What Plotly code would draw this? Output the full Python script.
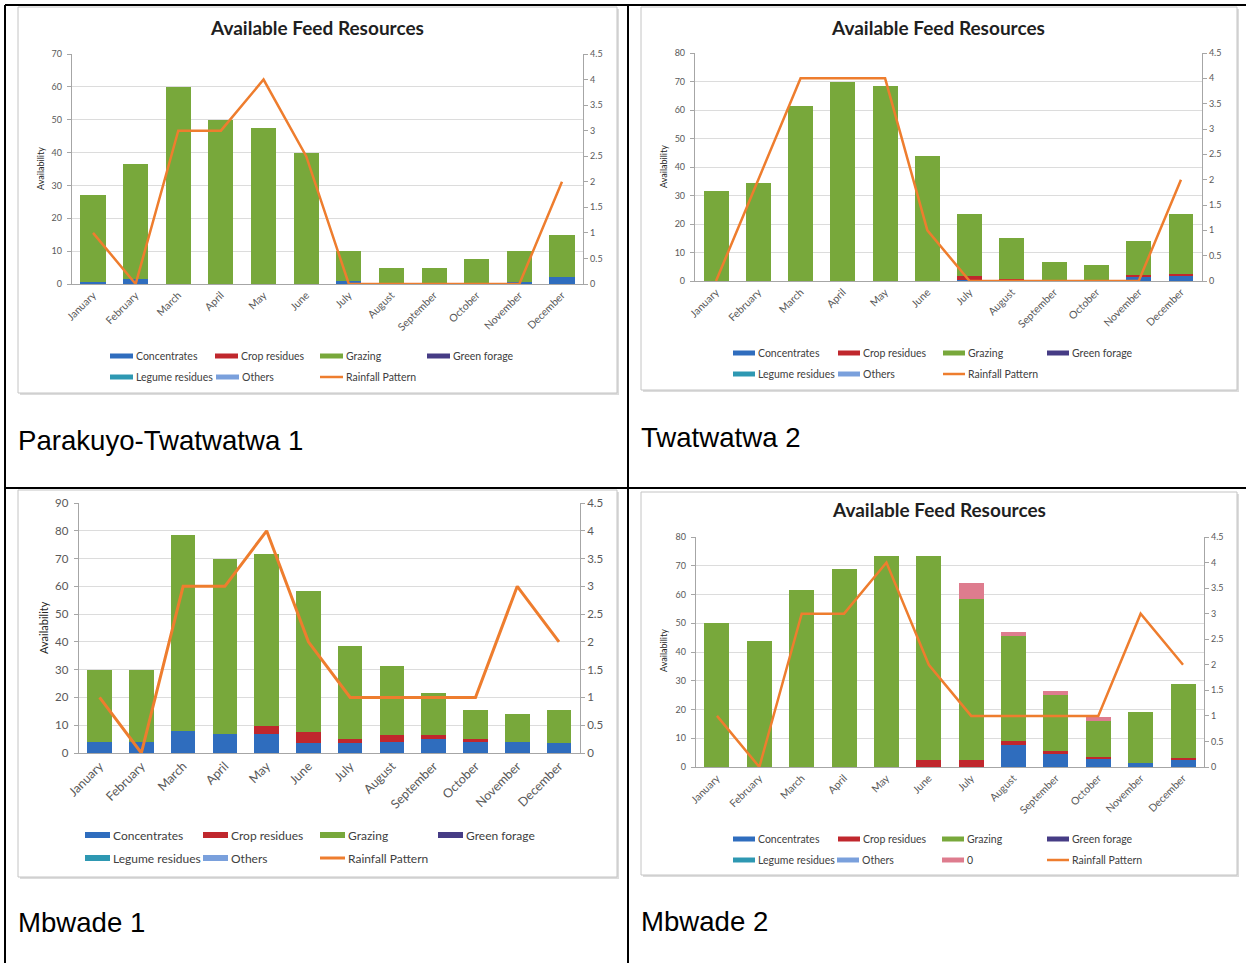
import plotly.graph_objects as go

# ---------------------------------------------------------------- data
months = ["January", "February", "March", "April", "May", "June", "July",
          "August", "September", "October", "November", "December"]

# Parakuyo-Twatwatwa 1
p1_concentrates = [0.5, 1.5, 0, 0, 0, 0, 1, 0.3, 0.2, 0.2, 0.5, 2]
p1_crop_residues = [0, 0, 0, 0, 0, 0, 0, 0, 0, 0, 0, 0]
p1_grazing = [26.5, 35, 60, 50, 47.5, 40, 9, 4.7, 4.8, 7.3, 9.5, 13]
p1_green_forage = [0, 0, 0, 0, 0, 0, 0, 0, 0, 0, 0, 0]
p1_legume_residues = [0, 0, 0, 0, 0, 0, 0, 0, 0, 0, 0, 0]
p1_others = [0, 0, 0, 0, 0, 0, 0, 0, 0, 0, 0, 0]
p1_rainfall = [1, 0, 3, 3, 4, 2.5, 0, 0, 0, 0, 0, 2]

# Twatwatwa 2
p2_concentrates = [0, 0, 0, 0, 0, 0, 0.3, 0, 0, 0, 1.5, 2]
p2_crop_residues = [0, 0, 0, 0, 0, 0, 1.5, 0.8, 0, 0, 0.7, 0.3]
p2_grazing = [31.5, 34.5, 61.5, 70, 68.5, 44, 21.7, 14.2, 6.5, 5.5, 11.8, 21.2]
p2_green_forage = [0, 0, 0, 0, 0, 0, 0, 0, 0, 0, 0, 0]
p2_legume_residues = [0, 0, 0, 0, 0, 0, 0, 0, 0, 0, 0, 0]
p2_others = [0, 0, 0, 0, 0, 0, 0, 0, 0, 0, 0, 0]
p2_rainfall = [0, 2, 4, 4, 4, 1, 0, 0, 0, 0, 0, 2]

# Mbwade 1
p3_concentrates = [4, 4, 8, 7, 7, 3.5, 3.5, 4, 5, 4, 4, 3.5]
p3_crop_residues = [0, 0, 0, 0, 2.7, 4, 1.5, 2.5, 1.5, 1, 0, 0]
p3_grazing = [26, 26, 70.5, 63, 61.8, 51, 33.5, 25, 15, 10.5, 10, 12]
p3_green_forage = [0, 0, 0, 0, 0, 0, 0, 0, 0, 0, 0, 0]
p3_legume_residues = [0, 0, 0, 0, 0, 0, 0, 0, 0, 0, 0, 0]
p3_others = [0, 0, 0, 0, 0, 0, 0, 0, 0, 0, 0, 0]
p3_rainfall = [1, 0, 3, 3, 4, 2, 1, 1, 1, 1, 3, 2]

# Mbwade 2
p4_concentrates = [0, 0, 0, 0, 0, 0, 0, 7.5, 4.5, 3, 1.5, 2.5]
p4_crop_residues = [0, 0, 0, 0, 0, 2.5, 2.5, 1.5, 1, 0.5, 0, 0.7]
p4_grazing = [50, 44, 61.5, 69, 73.5, 71, 56, 36.5, 19.5, 12.5, 17.5, 25.8]
p4_green_forage = [0, 0, 0, 0, 0, 0, 0, 0, 0, 0, 0, 0]
p4_legume_residues = [0, 0, 0, 0, 0, 0, 0, 0, 0, 0, 0, 0]
p4_others = [0, 0, 0, 0, 0, 0, 0, 0, 0, 0, 0, 0]
p4_zero = [0, 0, 0, 0, 0, 0, 5.5, 1.5, 1.5, 1.5, 0, 0]
p4_rainfall = [1, 0, 3, 3, 4, 2, 1, 1, 1, 1, 3, 2]

captions = ["Parakuyo-Twatwatwa 1", "Twatwatwa 2", "Mbwade 1", "Mbwade 2"]
chart_title = "Available Feed Resources"
left_axis_max = [70, 80, 90, 80]
right_axis_max = 4.5

# ---------------------------------------------------------------- styles
COLORS = {
    "Concentrates": "#2F6DBE",
    "Crop residues": "#C0272D",
    "Grazing": "#78A83B",
    "Green forage": "#463C85",
    "Legume residues": "#2E98B2",
    "Others": "#7AA0DC",
    "0": "#DE7C8E",
    "Rainfall Pattern": "#EE7D2E",
}
FONT = "Lato, 'Open Sans', sans-serif"
TICK_GRAY = "#595959"
AXIS_GRAY = "#A6A6A6"
GRID_GRAY = "#DCDCDC"

W, H = 1246, 963


def fx(x):
    return x / W


def fy(y):
    return 1 - y / H


panels = [
    dict(
        series=[("Concentrates", p1_concentrates), ("Crop residues", p1_crop_residues),
                ("Grazing", p1_grazing), ("Green forage", p1_green_forage),
                ("Legume residues", p1_legume_residues), ("Others", p1_others)],
        rain=p1_rainfall,
        box=(18, 7, 617, 393), plot=(71.7, 54, 583.3, 284),
        title_xy=(317, 27), ytitle_xy=(40, 168),
        tick=9, month=10.5, leg=10.5, ytitle=9, swatch=(23, 5), line_w=2.5,
        legend_rows=[(356, [(110, "Concentrates"), (215, "Crop residues"),
                            (320, "Grazing"), (427, "Green forage")]),
                     (377, [(110, "Legume residues"), (216, "Others"),
                            (320, "Rainfall Pattern")])],
        caption_xy=(16, 440),
    ),
    dict(
        series=[("Concentrates", p2_concentrates), ("Crop residues", p2_crop_residues),
                ("Grazing", p2_grazing), ("Green forage", p2_green_forage),
                ("Legume residues", p2_legume_residues), ("Others", p2_others)],
        rain=p2_rainfall,
        box=(641, 7, 1237, 390), plot=(694.9, 53, 1202.1, 281),
        title_xy=(938, 27), ytitle_xy=(663, 167),
        tick=9, month=10.5, leg=10.5, ytitle=9, swatch=(22, 5), line_w=2.5,
        legend_rows=[(353, [(733, "Concentrates"), (838, "Crop residues"),
                            (943, "Grazing"), (1047, "Green forage")]),
                     (374, [(733, "Legume residues"), (838, "Others"),
                            (943, "Rainfall Pattern")])],
        caption_xy=(639, 437),
    ),
    dict(
        series=[("Concentrates", p3_concentrates), ("Crop residues", p3_crop_residues),
                ("Grazing", p3_grazing), ("Green forage", p3_green_forage),
                ("Legume residues", p3_legume_residues), ("Others", p3_others)],
        rain=p3_rainfall,
        box=(18, 490, 617, 877), plot=(78.7, 503, 579.9, 753),
        title_xy=None, ytitle_xy=(43, 628),
        tick=11.5, month=12.5, leg=12, ytitle=11, swatch=(25, 6), line_w=3,
        legend_rows=[(835, [(85, "Concentrates"), (203, "Crop residues"),
                            (320, "Grazing"), (438, "Green forage")]),
                     (858, [(85, "Legume residues"), (203, "Others"),
                            (320, "Rainfall Pattern")])],
        caption_xy=(16, 922),
    ),
    dict(
        series=[("Concentrates", p4_concentrates), ("Crop residues", p4_crop_residues),
                ("Grazing", p4_grazing), ("Green forage", p4_green_forage),
                ("Legume residues", p4_legume_residues), ("Others", p4_others),
                ("0", p4_zero)],
        rain=p4_rainfall,
        box=(641, 492, 1237, 875), plot=(695.8, 537, 1204.2, 767),
        title_xy=(939, 510), ytitle_xy=(663, 651),
        tick=9, month=10.5, leg=10.5, ytitle=9, swatch=(22, 5), line_w=2.5,
        legend_rows=[(839, [(733, "Concentrates"), (838, "Crop residues"),
                            (942, "Grazing"), (1047, "Green forage")]),
                     (860, [(733, "Legume residues"), (837, "Others"),
                            (942, "0"), (1047, "Rainfall Pattern")])],
        caption_xy=(639, 921),
    ),
]

fig = go.Figure()
shapes = []
annotations = []
layout = {}

for i, pan in enumerate(panels):
    k = i + 1
    xa = "x" if k == 1 else f"x{k}"
    ya = "y" if k == 1 else f"y{k}"
    y2 = f"y{k + 4}"
    xkey = "xaxis" if k == 1 else f"xaxis{k}"
    ykey = "yaxis" if k == 1 else f"yaxis{k}"
    y2key = f"yaxis{k + 4}"

    for name, vals in pan["series"]:
        fig.add_trace(go.Bar(
            x=months, y=vals, name=name, xaxis=xa, yaxis=ya,
            marker=dict(color=COLORS[name], line=dict(width=0)),
            showlegend=False,
        ))
    fig.add_trace(go.Scatter(
        x=months, y=pan["rain"], name="Rainfall Pattern", mode="lines",
        xaxis=xa, yaxis=y2,
        line=dict(color=COLORS["Rainfall Pattern"], width=pan["line_w"]),
        showlegend=False,
    ))

    l, t, r, b = pan["plot"]
    layout[xkey] = dict(
        domain=[fx(l), fx(r)], anchor=ya, type="category", automargin=False,
        range=[-0.5, 11.5], tickangle=-45, showgrid=False,
        showline=True, linecolor=AXIS_GRAY, linewidth=1, ticks="",
        tickfont=dict(family=FONT, size=pan["month"], color=TICK_GRAY),
        fixedrange=True,
    )
    layout[ykey] = dict(
        domain=[fy(b), fy(t)], anchor=xa, range=[0, left_axis_max[i]],
        automargin=False,
        dtick=10, tick0=0, showgrid=True, gridcolor=GRID_GRAY, gridwidth=1,
        zeroline=False, showline=True, linecolor=AXIS_GRAY, linewidth=1,
        ticks="outside", ticklen=4, tickcolor=AXIS_GRAY, ticklabelstandoff=3,
        tickfont=dict(family=FONT, size=pan["tick"], color=TICK_GRAY),
        fixedrange=True,
    )
    layout[y2key] = dict(
        overlaying=ya, side="right", anchor=xa, range=[0, right_axis_max],
        automargin=False,
        dtick=0.5, tick0=0, showgrid=False, zeroline=False,
        showline=True, linecolor=AXIS_GRAY, linewidth=1,
        ticks="outside", ticklen=4, tickcolor=AXIS_GRAY,
        tickfont=dict(family=FONT, size=pan["tick"], color=TICK_GRAY),
        fixedrange=True,
    )

    # chart frame with a soft drop shadow
    bx0, by0, bx1, by1 = pan["box"]
    shapes.append(dict(type="rect", xref="paper", yref="paper",
                       x0=fx(bx0 + 2), y0=fy(by1 + 2), x1=fx(bx1 + 2), y1=fy(by0 + 2),
                       line=dict(width=0), fillcolor="#DCDCDC", layer="below"))
    shapes.append(dict(type="rect", xref="paper", yref="paper",
                       x0=fx(bx0), y0=fy(by1), x1=fx(bx1), y1=fy(by0),
                       line=dict(color="#C4C4C4", width=1), fillcolor="white",
                       layer="below"))

    if pan["title_xy"]:
        tx, ty = pan["title_xy"]
        annotations.append(dict(
            x=fx(tx), y=fy(ty), xref="paper", yref="paper", text=f"<b>{chart_title}</b>",
            showarrow=False, xanchor="center", yanchor="middle",
            font=dict(family=FONT, size=19, color="#1F1F1F")))

    ax, ay = pan["ytitle_xy"]
    annotations.append(dict(
        x=fx(ax), y=fy(ay), xref="paper", yref="paper", text="Availability",
        showarrow=False, textangle=-90, xanchor="center", yanchor="middle",
        font=dict(family=FONT, size=pan["ytitle"], color="#262626")))

    # legend rows
    sw, sh = pan["swatch"]
    for row_y, items in pan["legend_rows"]:
        for sx, name in items:
            if name == "Rainfall Pattern":
                shapes.append(dict(type="line", xref="paper", yref="paper",
                                   x0=fx(sx), x1=fx(sx + sw), y0=fy(row_y), y1=fy(row_y),
                                   line=dict(color=COLORS[name], width=pan["line_w"])))
            else:
                shapes.append(dict(type="rect", xref="paper", yref="paper",
                                   x0=fx(sx), x1=fx(sx + sw),
                                   y0=fy(row_y + sh / 2), y1=fy(row_y - sh / 2),
                                   line=dict(width=0), fillcolor=COLORS[name]))
            annotations.append(dict(
                x=fx(sx + sw + 1), y=fy(row_y), xref="paper", yref="paper",
                text=name, showarrow=False, xanchor="left", yanchor="middle",
                font=dict(family=FONT, size=pan["leg"], color="#404040")))

    cx, cy = pan["caption_xy"]
    annotations.append(dict(
        x=fx(cx), y=fy(cy), xref="paper", yref="paper", text=captions[i],
        showarrow=False, xanchor="left", yanchor="middle",
        font=dict(family="Liberation Sans, Arial, sans-serif", size=27.6, color="#000000")))

# table rules around the four cells
for x0, y0, x1, y1 in [(5, 5, 1246, 5), (5, 5, 5, 963), (628, 5, 628, 963),
                       (5, 488, 1246, 488)]:
    shapes.append(dict(type="line", xref="paper", yref="paper",
                       x0=fx(x0), y0=fy(y0), x1=fx(x1), y1=fy(y1),
                       line=dict(color="#000000", width=2)))

fig.update_layout(
    width=W, height=H, margin=dict(l=0, r=0, t=0, b=0, autoexpand=False),
    paper_bgcolor="white", plot_bgcolor="rgba(0,0,0,0)",
    barmode="stack", bargap=0.41, showlegend=False,
    shapes=shapes, annotations=annotations, **layout,
)

fig.write_html("out.html", config={"displayModeBar": False})
